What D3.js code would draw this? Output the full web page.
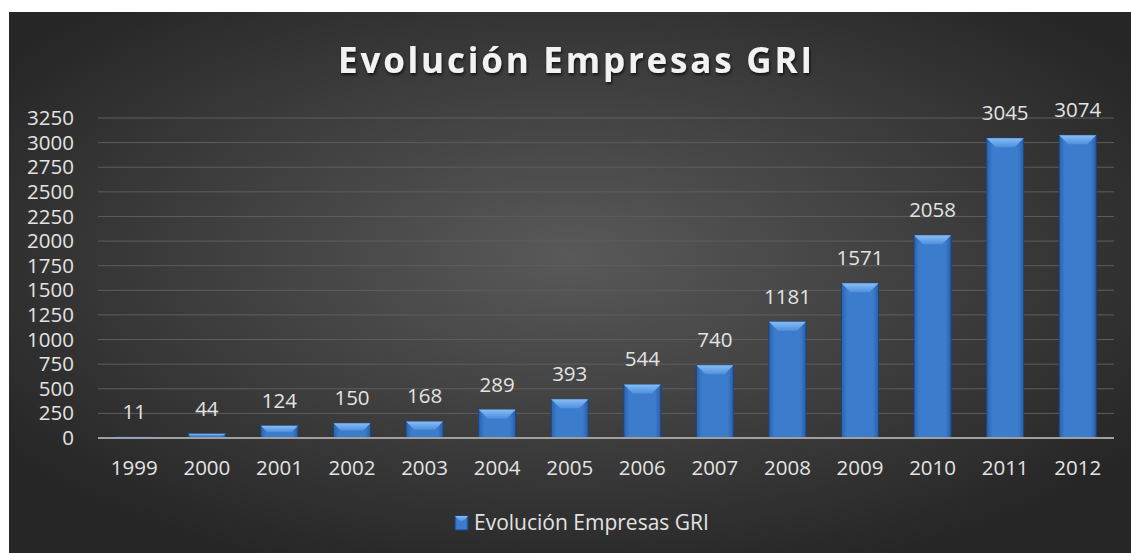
<!doctype html>
<html lang="es">
<head>
<meta charset="UTF-8">
<title>Evolución Empresas GRI</title>
<script src="https://cdn.jsdelivr.net/npm/d3@7"></script>
<style>
  body { margin: 0; background: #fff; }
  svg { display: block; font-family: "Open Sans", sans-serif; }
</style>
</head>
<body>
<script>
// data
var years = ["1999","2000","2001","2002","2003","2004","2005","2006","2007","2008","2009","2010","2011","2012"];
var empresas = [11, 44, 124, 150, 168, 289, 393, 544, 740, 1181, 1571, 2058, 3045, 3074];
var yTicks = [0,250,500,750,1000,1250,1500,1750,2000,2250,2500,2750,3000,3250];
var seriesName = "Evolución Empresas GRI";

var W = 1131, H = 553;
var svg = d3.select("body").append("svg").attr("width", W).attr("height", H);
var defs = svg.append("defs");

// dark radial background
var bg = defs.append("radialGradient").attr("id", "bg")
  .attr("cx", "50%").attr("cy", "45%").attr("r", "62%");
bg.append("stop").attr("offset", "0%").attr("stop-color", "#595959");
bg.append("stop").attr("offset", "100%").attr("stop-color", "#262626");

var barGrad = defs.append("linearGradient").attr("id", "bar")
  .attr("x1", "0").attr("x2", "1").attr("y1", "0").attr("y2", "0");
barGrad.append("stop").attr("offset", "0%").attr("stop-color", "#2c62ad");
barGrad.append("stop").attr("offset", "15%").attr("stop-color", "#3b7ccd");
barGrad.append("stop").attr("offset", "85%").attr("stop-color", "#3b7ccd");
barGrad.append("stop").attr("offset", "100%").attr("stop-color", "#2a5ea6");

var topGrad = defs.append("linearGradient").attr("id", "bevel")
  .attr("x1", "0").attr("x2", "0").attr("y1", "0").attr("y2", "1");
topGrad.append("stop").attr("offset", "0%").attr("stop-color", "#86bdf5");
topGrad.append("stop").attr("offset", "100%").attr("stop-color", "#4f8fdc");

var shadow = defs.append("filter").attr("id", "tshadow")
  .attr("x", "-5%").attr("y", "-20%").attr("width", "110%").attr("height", "150%");
shadow.append("feDropShadow").attr("dx", 1).attr("dy", 2).attr("stdDeviation", 1.5)
  .attr("flood-color", "#000").attr("flood-opacity", 0.7);

svg.append("rect").attr("x", 9).attr("y", 12).attr("width", W - 9).attr("height", H - 12)
  .attr("fill", "url(#bg)");

// plot area (note: "top" is taken by window.top, so plotTop)
var plotLeft = 98, plotRight = 1114, plotTop = 118, plotBottom = 438;

var x = d3.scaleBand().domain(years).range([plotLeft, plotRight]).paddingInner(0.49).paddingOuter(0.245);
var y = d3.scaleLinear().domain([0, 3250]).range([plotBottom, plotTop]);

// gridlines
svg.append("g").selectAll("line").data(yTicks.slice(1)).enter().append("line")
  .attr("x1", plotLeft).attr("x2", plotRight)
  .attr("y1", function(d) { return y(d); }).attr("y2", function(d) { return y(d); })
  .attr("stroke", "#5e5e5e").attr("stroke-width", 1);

// y axis labels
var yAxis = d3.axisLeft(y).tickValues(yTicks).tickSize(0).tickPadding(24).tickFormat(d3.format("d"));
var ya = svg.append("g").attr("transform", "translate(" + plotLeft + ",0)").call(yAxis);
ya.select(".domain").remove();
ya.selectAll("text").attr("fill", "#e3e3e3").attr("font-size", 20.5)
  .attr("font-family", "Open Sans, sans-serif");

// x axis labels
var xAxis = d3.axisBottom(x).tickSize(0).tickPadding(22);
var xa = svg.append("g").attr("transform", "translate(0," + plotBottom + ")").call(xAxis);
xa.select(".domain").remove();
xa.selectAll("text").attr("fill", "#e3e3e3").attr("font-size", 20.5)
  .attr("font-family", "Open Sans, sans-serif");

// bars
var bars = svg.append("g").selectAll("g").data(empresas).enter().append("g");
bars.append("rect")
  .attr("x", function(d, i) { return x(years[i]); })
  .attr("y", function(d) { return y(d); })
  .attr("width", x.bandwidth())
  .attr("height", function(d) { return plotBottom - y(d); })
  .attr("fill", "url(#bar)")
  .attr("stroke", "#1d467f").attr("stroke-width", 1);
bars.append("path")
  .attr("d", function(d, i) {
    var x0 = x(years[i]), x1 = x0 + x.bandwidth(), t = y(d);
    var bev = Math.min(9, (plotBottom - t) / 2);
    return "M" + x0 + "," + t + "L" + x1 + "," + t +
      "L" + (x1 - bev) + "," + (t + bev) + "L" + (x0 + bev) + "," + (t + bev) + "Z";
  })
  .attr("fill", "url(#bevel)");

// axis baseline
svg.append("line").attr("x1", plotLeft).attr("x2", plotRight).attr("y1", plotBottom).attr("y2", plotBottom)
  .attr("stroke", "#a0a0a0").attr("stroke-width", 2);

// value labels
svg.append("g").selectAll("text").data(empresas).enter().append("text")
  .attr("x", function(d, i) { return x(years[i]) + x.bandwidth() / 2; })
  .attr("y", function(d) { return y(d) - 18; })
  .attr("text-anchor", "middle")
  .attr("fill", "#e3e3e3").attr("font-size", 20.5)
  .text(function(d) { return d; });

// title
svg.append("text").attr("x", 575).attr("y", 73)
  .attr("text-anchor", "middle")
  .attr("font-size", 35).attr("font-weight", "bold")
  .attr("textLength", 474).attr("lengthAdjust", "spacing")
  .attr("fill", "#f2f2f2").attr("filter", "url(#tshadow)")
  .text(seriesName);

// legend
var lg = svg.append("g").attr("transform", "translate(455,516)");
lg.append("rect").attr("width", 13).attr("height", 14).attr("fill", "url(#bar)")
  .attr("stroke", "#1d467f");
lg.append("path").attr("d", "M0,0L13,0L8,5L5,5Z").attr("fill", "url(#bevel)");
lg.append("text").attr("x", 19).attr("y", 14).attr("fill", "#e3e3e3")
  .attr("font-size", 21).text(seriesName);
</script>
</body>
</html>
